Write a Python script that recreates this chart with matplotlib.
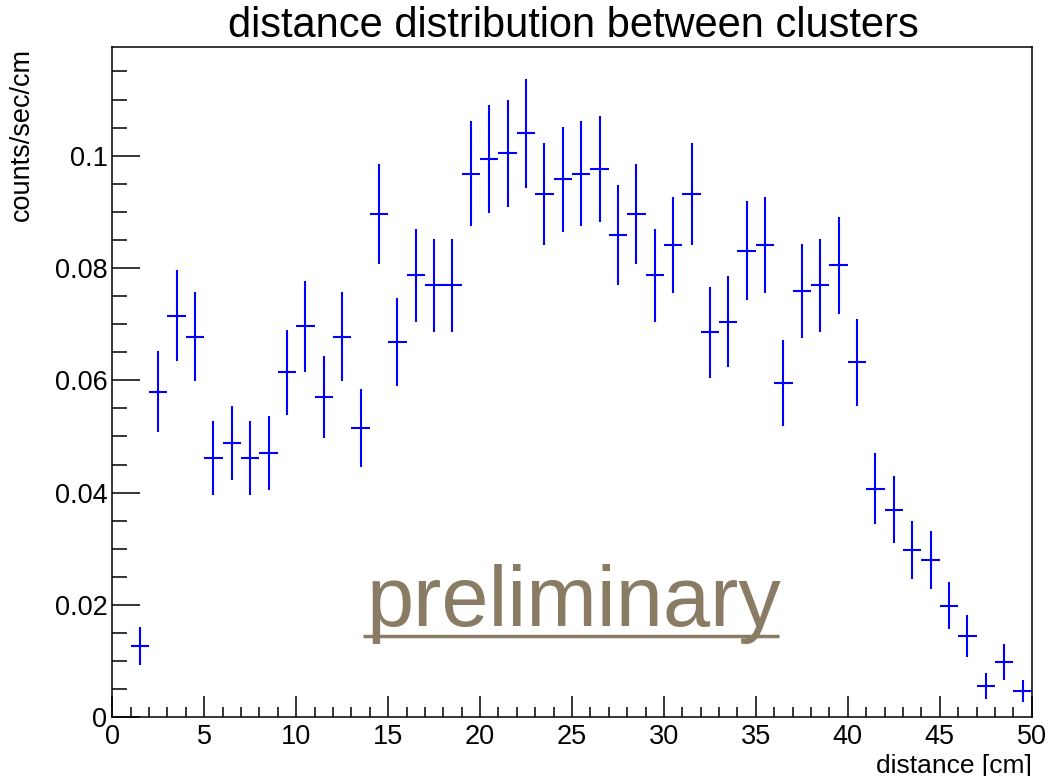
import matplotlib
matplotlib.use("Agg")
import matplotlib.pyplot as plt
from matplotlib.ticker import MultipleLocator, FuncFormatter

plt.rcParams['font.family'] = ['Liberation Sans', 'DejaVu Sans']

# bin centers (cm)
distance = [1.5, 2.5, 3.5, 4.5, 5.5, 6.5, 7.5, 8.5, 9.5, 10.5,
            11.5, 12.5, 13.5, 14.5, 15.5, 16.5, 17.5, 18.5, 19.5, 20.5,
            21.5, 22.5, 23.5, 24.5, 25.5, 26.5, 27.5, 28.5, 29.5, 30.5,
            31.5, 32.5, 33.5, 34.5, 35.5, 36.5, 37.5, 38.5, 39.5, 40.5,
            41.5, 42.5, 43.5, 44.5, 45.5, 46.5, 47.5, 48.5, 49.5]
rate = [0.0127, 0.0580, 0.0715, 0.0678, 0.0461, 0.0489, 0.0461, 0.0471, 0.0614, 0.0696,
        0.0570, 0.0678, 0.0515, 0.0896, 0.0668, 0.0787, 0.0769, 0.0769, 0.0968, 0.0994,
        0.1004, 0.1040, 0.0932, 0.0958, 0.0968, 0.0976, 0.0859, 0.0896, 0.0787, 0.0841,
        0.0932, 0.0686, 0.0704, 0.0831, 0.0841, 0.0595, 0.0759, 0.0769, 0.0805, 0.0632,
        0.0407, 0.0370, 0.0298, 0.0280, 0.0199, 0.0145, 0.0055, 0.0098, 0.0047]
rate_err = [0.0034, 0.0072, 0.0081, 0.0079, 0.0066, 0.0066, 0.0066, 0.0066, 0.0076, 0.0081,
            0.0073, 0.0079, 0.0069, 0.0089, 0.0078, 0.0083, 0.0083, 0.0083, 0.0094, 0.0096,
            0.0095, 0.0097, 0.0091, 0.0093, 0.0094, 0.0094, 0.0089, 0.0089, 0.0083, 0.0086,
            0.0091, 0.0081, 0.0081, 0.0088, 0.0086, 0.0076, 0.0083, 0.0083, 0.0086, 0.0077,
            0.0063, 0.0060, 0.0052, 0.0052, 0.0042, 0.0037, 0.0023, 0.0032, 0.0019]
bin_half_width = 0.5

W, H = 1054, 776
fig = plt.figure(figsize=(W / 100, H / 100), dpi=100)
ax = fig.add_axes([112.3 / W, 1 - 717.3 / H, (1031.7 - 112.3) / W, (717.3 - 47.3) / H])

ax.errorbar(distance, rate, yerr=rate_err, xerr=bin_half_width, fmt='none',
            ecolor='#0000ff', elinewidth=1.5, capsize=0)

ax.set_xlim(0, 50)
ax.set_ylim(0, 0.1193)

ax.xaxis.set_major_locator(MultipleLocator(5))
ax.xaxis.set_minor_locator(MultipleLocator(1))
ax.yaxis.set_major_locator(MultipleLocator(0.02))
ax.yaxis.set_minor_locator(MultipleLocator(0.005))
ax.yaxis.set_major_formatter(FuncFormatter(lambda v, p: '%g' % round(v, 4)))

ax.tick_params(axis='both', which='both', direction='in', top=False, right=False,
               width=1.1, color='black')
ax.tick_params(axis='x', which='major', length=15, pad=5, labelsize=19.5)
ax.tick_params(axis='x', which='minor', length=7.5)
ax.tick_params(axis='y', which='major', length=20, pad=3.5, labelsize=19.5)
ax.tick_params(axis='y', which='minor', length=11)
for s in ax.spines.values():
    s.set_linewidth(1.1)

fig.text(573 / W, 1 - 37 / H, 'distance distribution between clusters',
         ha='center', va='baseline', fontsize=30)
fig.text(22 / W, 1 - 48 / H, 'counts/sec/cm', rotation=90,
         ha='center', va='top', fontsize=19.5)
fig.text(1031.7 / W, 1 - 773 / H, 'distance [cm]', ha='right', va='baseline',
         fontsize=19)

ax.text(0.2765, 0.1365, 'preliminary', transform=ax.transAxes, ha='left', va='baseline',
        fontsize=61, color='#8a7c64')
ax.plot([362.7, 779], [H - 635.7, H - 635.7], color='#8a7c64', lw=2.5,
        transform=None, solid_capstyle='butt')

fig.savefig('out.png', dpi=100)
